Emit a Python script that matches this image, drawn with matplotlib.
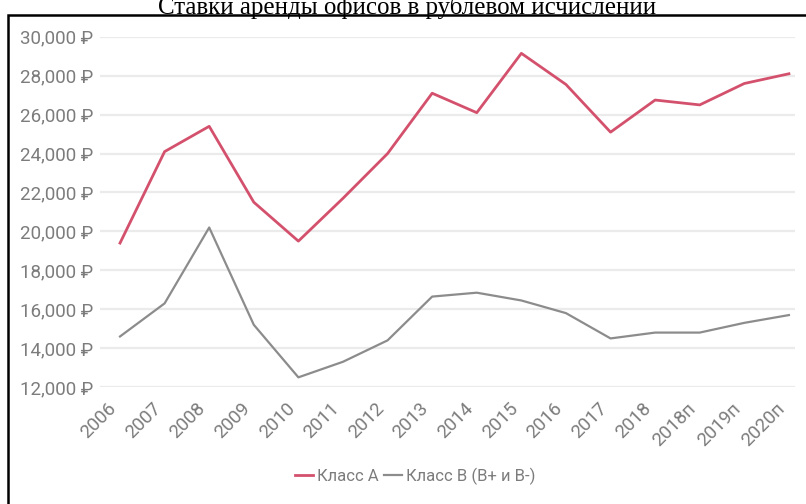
import matplotlib.pyplot as plt
from matplotlib.patches import Rectangle
from matplotlib.ticker import FuncFormatter

# Годы (п - прогноз)
years = ['2006', '2007', '2008', '2009', '2010', '2011', '2012', '2013',
         '2014', '2015', '2016', '2017', '2018', '2018п', '2019п', '2020п']

# Ставки аренды, руб. за кв. м в год
class_a = [19400, 24100, 25400, 21500, 19500, 21700, 24000, 27100,
           26100, 29150, 27550, 25100, 26750, 26500, 27600, 28100]
class_b = [14600, 16300, 20200, 15200, 12500, 13300, 14400, 16650,
           16850, 16450, 15800, 14500, 14800, 14800, 15300, 15700]

sans = ['Roboto', 'DejaVu Sans']
grey = '#7c7c7c'

fig = plt.figure(figsize=(8.06, 5.04), dpi=100)
ax = fig.add_axes([0.124, 0.232, 0.862, 0.695])

x = range(len(years))
ax.plot(x, class_a, color='#d4516d', lw=2.0, label='Класс А', clip_on=False)
ax.plot(x, class_b, color='#8c8c8c', lw=1.6, label='Класс В (В+ и В-)', clip_on=False)

ax.set_xlim(-0.45, 15.13)
ax.set_ylim(12000, 30000)
ax.set_yticks(range(12000, 30001, 2000))
ax.yaxis.set_major_formatter(FuncFormatter(lambda v, p: f'{int(v):,} ₽'))
ax.set_xticks(list(x))
ax.set_xticklabels(years, rotation=45, ha='right')

ax.grid(axis='y', color='#ebebeb', lw=1.6)
ax.set_axisbelow(True)
for s in ax.spines.values():
    s.set_visible(False)
ax.tick_params(length=0, colors=grey)
ax.tick_params(axis='y', pad=5)
ax.tick_params(axis='x', pad=9)
for lab in ax.get_xticklabels() + ax.get_yticklabels():
    lab.set_family(sans)
    lab.set_fontsize(13.5)

# легенда под графиком
leg = fig.legend(loc='center', bbox_to_anchor=(415 / 806, 1 - 476 / 504),
                 ncol=2, frameon=False, handlelength=1.1, handletextpad=0.25,
                 columnspacing=0.3, prop={'family': sans, 'size': 12})
for t in leg.get_texts():
    t.set_color(grey)

# рамка вокруг диаграммы
fig.add_artist(Rectangle((8 / 806, -0.1), 1.2, 1.1 - 15 / 504, fill=False,
                         lw=1.8, edgecolor='black', transform=fig.transFigure,
                         clip_on=False))

fig.text(407 / 806, 1 - 14 / 504, 'Ставки аренды офисов в рублевом исчислении',
         ha='center', va='baseline', family='Liberation Serif', fontsize=18,
         color='black')

fig.savefig('out.png', dpi=100)
